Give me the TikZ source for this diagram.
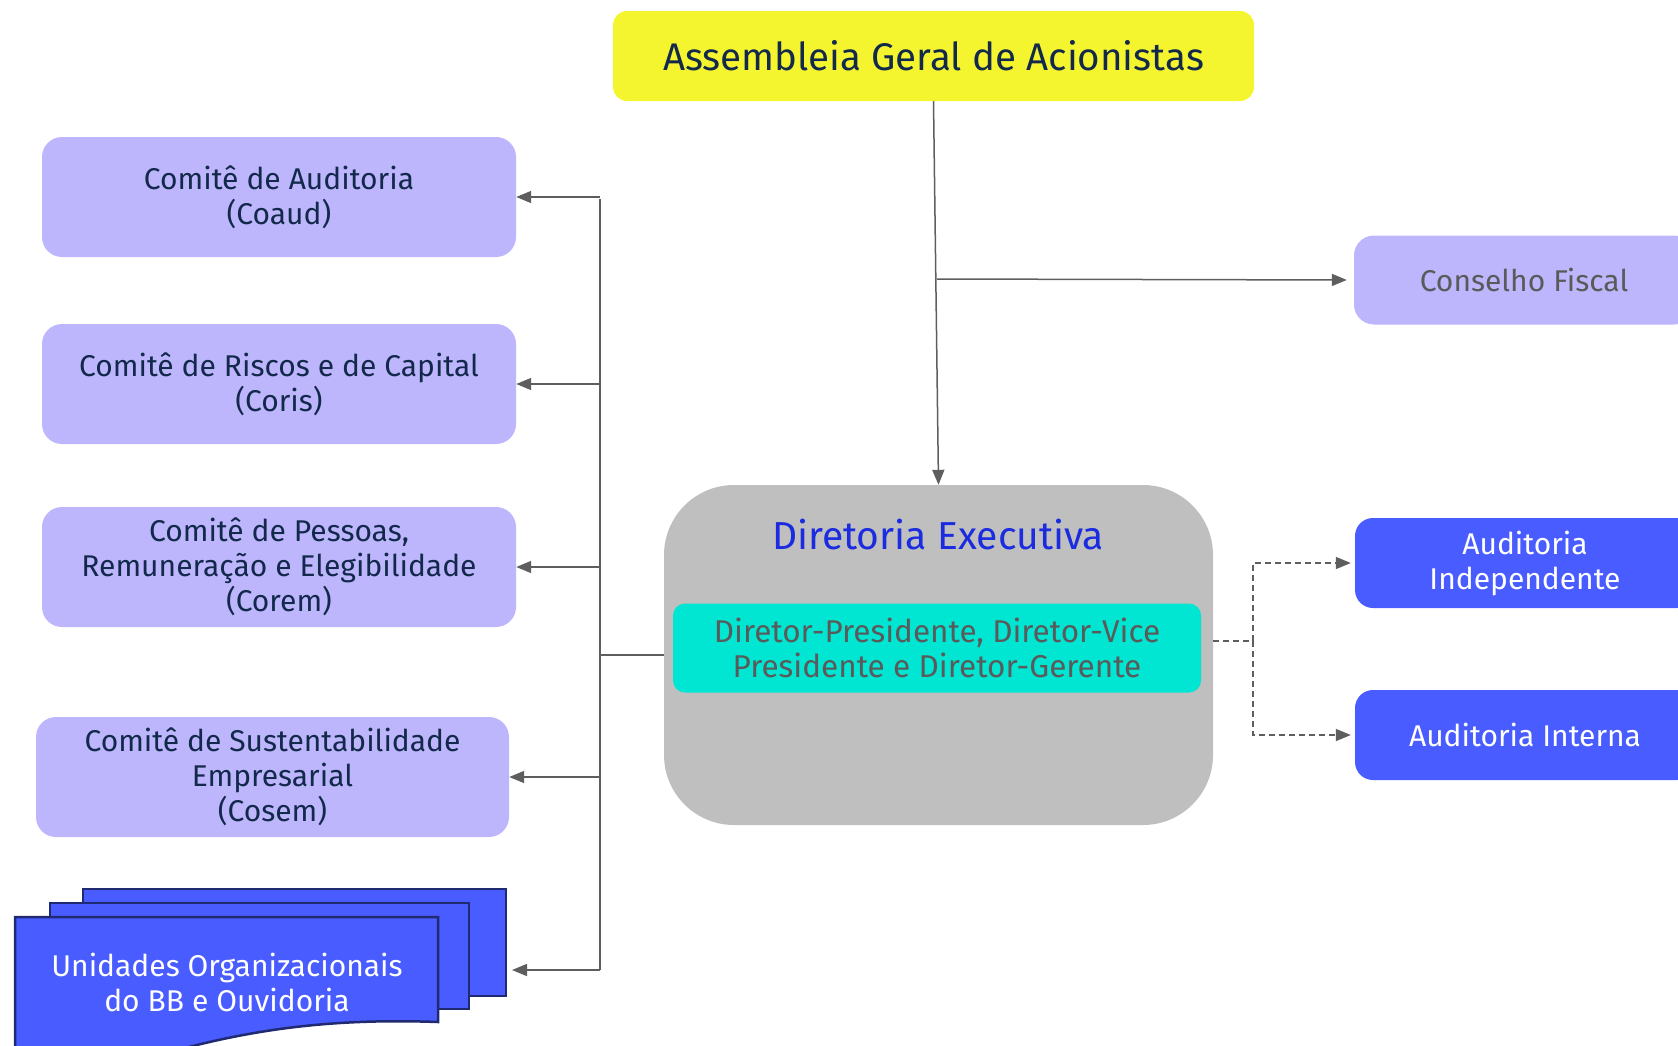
\documentclass[tikz,border=0pt]{standalone}
\usepackage{fontspec}
\setmainfont{Fira Sans}
\usepackage{xcolor}
\usetikzlibrary{arrows.meta, positioning}

\definecolor{bbLilac}{HTML}{BDB6FD}
\definecolor{bbBlue}{HTML}{485CFF}
\definecolor{bbYellow}{HTML}{F5F52F}
\definecolor{bbCyan}{HTML}{00E6D2}
\definecolor{bbGray}{HTML}{BFBFBF}
\definecolor{bbNavy}{HTML}{13294B}
\definecolor{bbTitle}{HTML}{1A2BE0}
\definecolor{bbLine}{HTML}{5E5E5E}
\definecolor{bbText}{HTML}{5A5A5A}
\definecolor{bbFrame}{HTML}{1F2A70}

\tikzset{
    comite/.style={rectangle, rounded corners=20pt, fill=bbLilac, text=bbNavy,
        minimum width=474pt, minimum height=120pt, inner sep=0pt, align=center,
        font=\fontsize{30}{35}\selectfont},
    auditbox/.style={rectangle, rounded corners=18pt, fill=bbBlue, text=white,
        minimum width=340pt, minimum height=90pt, inner sep=0pt, align=center,
        font=\fontsize{30}{35}\selectfont},
    docframe/.style={fill=bbBlue, draw=bbFrame, line width=2.5pt},
    link/.style={draw=bbLine, line width=1.5pt, -{Triangle[length=15pt, width=12pt]}},
    dashlink/.style={link, dash pattern=on 6pt off 4pt},
}

\begin{document}
\begin{tikzpicture}[x=1pt, y=-1pt]
    \useasboundingbox (0,0) rectangle (1678,1045);
    \def\busX{600}

    % Top and centre
    \node[rectangle, rounded corners=14pt, fill=bbYellow, text=bbNavy,
        minimum width=641pt, minimum height=90pt, inner sep=0pt,
        font=\fontsize{38.5}{42}\selectfont] (assembleia) at (933.5,56) {Assembleia Geral de Acionistas};

    \node[rectangle, rounded corners=70pt, fill=bbGray,
        minimum width=549pt, minimum height=340pt, inner sep=0pt] (diretoria) at (938.5,655) {};
    \node[text=bbTitle, font=\fontsize{39}{42}\selectfont] (diretoria-title) at (938,535) {Diretoria Executiva};
    \node[rectangle, rounded corners=12pt, fill=bbCyan, text=bbText,
        minimum width=528pt, minimum height=89pt, inner sep=0pt, align=center,
        font=\fontsize{31.5}{35}\selectfont] (presidencia) at (937,648) {Diretor-Presidente, Diretor-Vice\\Presidente e Diretor-Gerente};

    % Right column
    \node[comite, minimum width=340pt, minimum height=89pt, text=bbText] (conselho) at (1524,280) {Conselho Fiscal};
    \node[auditbox] (independente) at (1525,563) {Auditoria\\Independente};
    \node[auditbox] (interna) at (1525,735) {Auditoria Interna};

    % Committees on the left
    \node[comite] (coaud) at (279,197) {Comitê de Auditoria\\(Coaud)};
    \node[comite] (coris) at (279,384) {Comitê de Riscos e de Capital\\(Coris)};
    \node[comite] (corem) at (279,567) {Comitê de Pessoas,\\Remuneração e Elegibilidade\\(Corem)};
    \node[comite, minimum width=473pt] (cosem) at (272.5,777) {Comitê de Sustentabilidade\\Empresarial\\(Cosem)};

    % Stacked documents
    \draw[docframe] (83,889) rectangle (506,996);
    \draw[docframe] (50,903) rectangle (469,1009);
    \draw[docframe] (15,917) -- (438,917) -- (438,1022)
        .. controls (330,1018) and (250,1030) .. (170,1052) -- (15,1052) -- cycle;
    \node[text=white, align=center, font=\fontsize{30}{35}\selectfont] (unidades) at (227,982) {Unidades Organizacionais\\do BB e Ouvidoria};
    \coordinate (unidades-in) at (512,970);

    % Connectors
    \draw[link] (assembleia.south) -- (diretoria.north);
    \coordinate (fiscal-out) at (937,279);
    \draw[link, shorten >=7pt] (fiscal-out) -- (conselho.west);

    \coordinate (bus-top) at (\busX,199);
    \coordinate (bus-bottom) at (\busX,970);
    \draw[bbLine, line width=1.5pt] (bus-top) -- (bus-bottom);
    \draw[bbLine, line width=1.5pt] (diretoria.west) -- (diretoria.west -| bus-top);
    \foreach \c in {coaud, coris, corem, cosem}
        \draw[link] (bus-top |- \c.east) -- (\c.east);
    \draw[link] (bus-bottom) -- (unidades-in);

    \coordinate (dash-start) at (1213,641);
    \coordinate (dash-split) at (1253,641);
    \draw[dashlink, -] (dash-start) -- (dash-split);
    \draw[dashlink, shorten >=4pt] (dash-split) |- (independente.west);
    \draw[dashlink, shorten >=4pt] (dash-split) |- (interna.west);
\end{tikzpicture}
\end{document}
